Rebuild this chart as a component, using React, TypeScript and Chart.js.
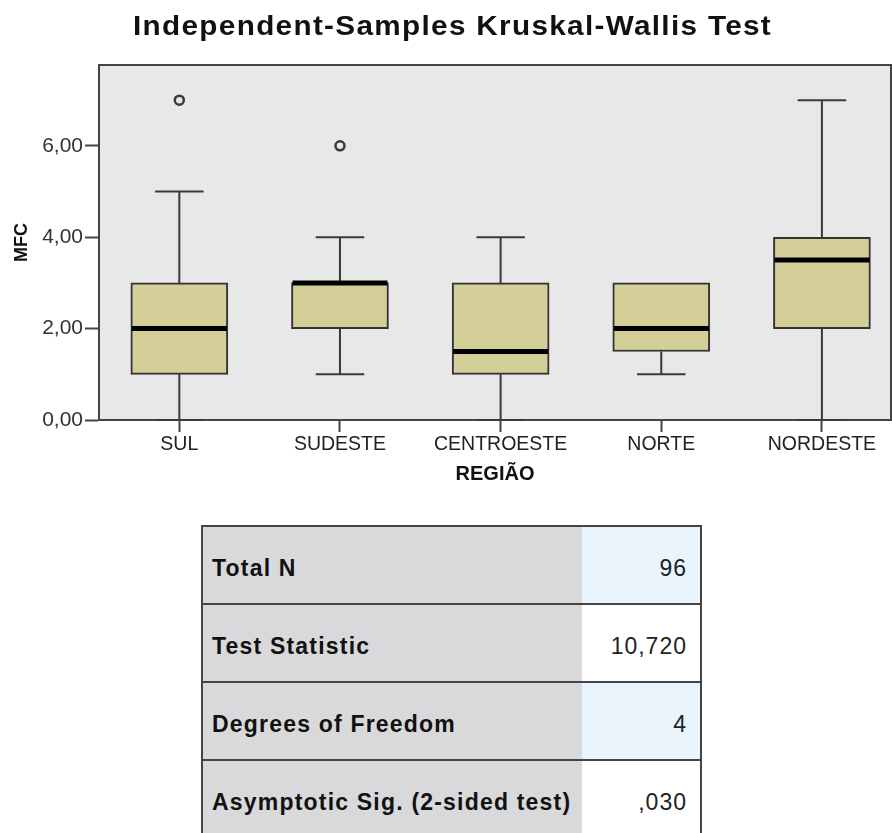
import React, { useEffect, useRef } from "react";
import { Chart, registerables } from "chart.js";
Chart.register(...registerables);

const categories = ["SUL", "SUDESTE", "CENTROESTE", "NORTE", "NORDESTE"];
const whiskerLow = [0, 1, 0, 1, 0];
const q1 = [1, 2, 1, 1.5, 2];
const median = [2, 3, 1.5, 2, 3.5];
const q3 = [3, 3, 3, 3, 4];
const whiskerHigh = [5, 4, 4, 3, 7];
const outlierCat = [0, 1];
const outlierVal = [7, 6];
const yTicks = [0, 2, 4, 6];
const yMax = 7.77;
const xMax = 4.43;
const chartTitle = "Independent-Samples Kruskal-Wallis Test";
const tableLabels = ["Total N", "Test Statistic", "Degrees of Freedom", "Asymptotic Sig. (2-sided test)"];
const tableValues = ["96", "10,720", "4", ",030"];

const FONT = "'Liberation Sans', Arial, sans-serif";

const boxPlugin = {
  id: "boxplotExtras",
  beforeDraw(chart: any) {
    const { ctx, chartArea: a } = chart;
    ctx.save();
    ctx.fillStyle = "#E8E8E8";
    ctx.fillRect(a.left, a.top, a.right - a.left, a.bottom - a.top);
    ctx.restore();
  },
  beforeDatasetsDraw(chart: any) {
    const { ctx, scales } = chart;
    const meta = chart.getDatasetMeta(0);
    ctx.save();
    ctx.strokeStyle = "#3a3a3a";
    ctx.lineWidth = 2;
    categories.forEach((_, i) => {
      const x = scales.x.getPixelForValue(i);
      const w = meta.data[i] ? meta.data[i].width : 97;
      const capHalf = w / 4;
      const yLo = scales.y.getPixelForValue(whiskerLow[i]);
      const yQ1 = scales.y.getPixelForValue(q1[i]);
      const yQ3 = scales.y.getPixelForValue(q3[i]);
      const yHi = scales.y.getPixelForValue(whiskerHigh[i]);
      ctx.beginPath();
      ctx.moveTo(x, yLo);
      ctx.lineTo(x, yQ1);
      ctx.moveTo(x, yQ3);
      ctx.lineTo(x, yHi);
      if (whiskerLow[i] < q1[i]) {
        ctx.moveTo(x - capHalf, yLo);
        ctx.lineTo(x + capHalf, yLo);
      }
      if (whiskerHigh[i] > q3[i]) {
        ctx.moveTo(x - capHalf, yHi);
        ctx.lineTo(x + capHalf, yHi);
      }
      ctx.stroke();
    });
    ctx.restore();
  },
  afterDatasetsDraw(chart: any) {
    const { ctx, scales, chartArea: a } = chart;
    const meta = chart.getDatasetMeta(0);
    ctx.save();
    ctx.strokeStyle = "#000";
    ctx.lineWidth = 5;
    categories.forEach((_, i) => {
      const x = scales.x.getPixelForValue(i);
      const w = meta.data[i] ? meta.data[i].width : 97;
      const y = scales.y.getPixelForValue(median[i]);
      ctx.beginPath();
      ctx.moveTo(x - w / 2 + 1, y);
      ctx.lineTo(x + w / 2 - 1, y);
      ctx.stroke();
    });
    ctx.strokeStyle = "#444";
    ctx.lineWidth = 2;
    ctx.beginPath();
    ctx.moveTo(a.left, a.top);
    ctx.lineTo(a.right, a.top);
    ctx.lineTo(a.right, a.bottom);
    ctx.stroke();
    ctx.restore();
  },
};

function BoxChart() {
  const ref = useRef<HTMLCanvasElement | null>(null);
  useEffect(() => {
    if (!ref.current) return;
    const chart = new Chart(ref.current, {
      type: "bar",
      data: {
        datasets: [
          {
            type: "bar",
            data: categories.map((_, i) => ({ x: i, y: [q1[i], q3[i]] })) as any,
            backgroundColor: "#D4CF98",
            borderColor: "#333",
            borderWidth: 2,
            borderSkipped: false,
            barThickness: 97,
          } as any,
          {
            type: "scatter",
            data: outlierCat.map((c, i) => ({ x: c, y: outlierVal[i] })),
            pointRadius: 4.5,
            pointBorderWidth: 2.5,
            pointBorderColor: "#3a3a3a",
            pointBackgroundColor: "#E8E8E8",
          } as any,
        ],
      },
      options: {
        responsive: false,
        animation: false,
        devicePixelRatio: 1,
        layout: { autoPadding: false, padding: { left: 0, right: 1, top: 65, bottom: 0 } },
        plugins: {
          legend: { display: false },
          tooltip: { enabled: false },
          title: { display: false },
        },
        scales: {
          x: {
            type: "linear",
            min: -0.5,
            max: xMax,
            offset: false,
            afterFit(scale: any) {
              scale.height = 80;
            },
            afterBuildTicks(scale: any) {
              scale.ticks = categories.map((_, i) => ({ value: i }));
            },
            ticks: {
              autoSkip: false,
              maxRotation: 0,
              padding: 1,
              color: "#222",
              font: { family: FONT, size: 19.5 },
              callback: (v: any) => categories[Number(v)] ?? "",
            },
            grid: {
              offset: false,
              drawOnChartArea: false,
              drawTicks: true,
              tickLength: 12,
              tickColor: "#444",
              tickWidth: 2,
            },
            border: { display: true, color: "#444", width: 2 },
            title: {
              display: true,
              text: "REGIÃO",
              color: "#111",
              font: { family: FONT, size: 20, weight: "bold" },
              padding: { top: 0, bottom: 14 },
            },
          },
          y: {
            type: "linear",
            min: 0,
            max: yMax,
            afterFit(scale: any) {
              scale.width = 99;
            },
            afterBuildTicks(scale: any) {
              scale.ticks = yTicks.map((v) => ({ value: v }));
            },
            ticks: {
              padding: 2,
              color: "#333",
              font: { family: FONT, size: 21 },
              callback: (v: any) => Number(v).toFixed(2).replace(".", ","),
            },
            grid: { drawOnChartArea: false, drawTicks: true, tickLength: 14, tickColor: "#444", tickWidth: 2 },
            border: { display: true, color: "#444", width: 2 },
            title: {
              display: true,
              text: "MFC",
              color: "#111",
              font: { family: FONT, size: 18, weight: "bold" },
              padding: { top: 11, bottom: 0 },
            },
          },
        },
      },
      plugins: [boxPlugin],
    } as any);
    return () => chart.destroy();
  }, []);
  return <canvas ref={ref} width={892} height={500} style={{ display: "block" }} />;
}

const ROW_TOP = 525;
const ROW_H = 78;

function StatsTable() {
  return (
    <div
      style={{
        position: "absolute",
        left: 201,
        top: ROW_TOP,
        width: 501,
        fontFamily: FONT,
      }}
    >
      {tableLabels.map((lab, i) => (
        <div
          key={lab}
          style={{
            display: "flex",
            height: ROW_H,
            boxSizing: "border-box",
            borderTop: "2px solid #444",
            borderLeft: "2px solid #444",
            borderRight: "2px solid #444",
          }}
        >
          <div
            style={{
              width: 379,
              background: "#D9D9DB",
              display: "flex",
              alignItems: "center",
              paddingLeft: 9,
              paddingTop: 6,
              boxSizing: "border-box",
              fontWeight: "bold",
              fontSize: 23,
              color: "#111",
              letterSpacing: 1.2,
              whiteSpace: "nowrap",
            }}
          >
            {lab}
          </div>
          <div
            style={{
              flex: 1,
              background: i % 2 === 0 ? "#EAF4FD" : "#FFFFFF",
              display: "flex",
              alignItems: "center",
              justifyContent: "flex-end",
              paddingRight: 13,
              paddingTop: 6,
              boxSizing: "border-box",
              fontSize: 23,
              letterSpacing: 1,
              color: "#222",
            }}
          >
            {tableValues[i]}
          </div>
        </div>
      ))}
    </div>
  );
}

export default function App() {
  return (
    <div
      style={{
        position: "absolute",
        left: 0,
        top: 0,
        width: 892,
        height: 833,
        overflow: "hidden",
        background: "#fff",
      }}
    >
      <div
        style={{
          position: "absolute",
          left: 0,
          top: 10,
          width: 905,
          textAlign: "center",
          transform: "scaleX(1.1)",
          transformOrigin: "452px 0",
          fontFamily: FONT,
          fontWeight: "bold",
          fontSize: 27,
          lineHeight: "32px",
          letterSpacing: 1.2,
          color: "#111",
          whiteSpace: "nowrap",
        }}
      >
        {chartTitle}
      </div>
      <BoxChart />
      <StatsTable />
    </div>
  );
}
